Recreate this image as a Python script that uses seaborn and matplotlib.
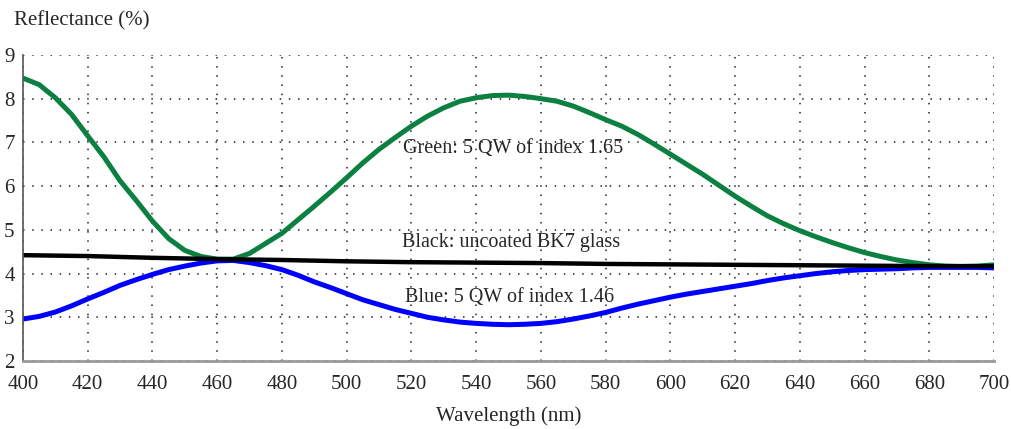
import numpy as np
import pandas as pd
import matplotlib
matplotlib.use("Agg")
import matplotlib.pyplot as plt
import seaborn as sns
from matplotlib.ticker import MultipleLocator

# Wavelengths (nm) and reflectance (%)
wl = [400, 405, 410, 415, 420, 425, 430, 435, 440, 445, 450, 455, 460, 465, 470, 475,
      480, 485, 490, 495, 500, 505, 510, 515, 520, 525, 530, 535, 540, 545, 550, 555,
      560, 565, 570, 575, 580, 585, 590, 595, 600, 605, 610, 615, 620, 625, 630, 635,
      640, 645, 650, 655, 660, 665, 670, 675, 680, 685, 690, 695, 700]
green = [8.47, 8.32, 8.02, 7.64, 7.15, 6.67, 6.12, 5.67, 5.20, 4.80, 4.53, 4.39, 4.33, 4.33, 4.46, 4.69,
         4.92, 5.23, 5.54, 5.86, 6.19, 6.53, 6.84, 7.11, 7.37, 7.60, 7.79, 7.94, 8.02, 8.07, 8.08, 8.05,
         8.00, 7.94, 7.83, 7.68, 7.52, 7.37, 7.18, 6.96, 6.73, 6.50, 6.27, 6.02, 5.77, 5.54, 5.32, 5.14,
         4.98, 4.84, 4.71, 4.59, 4.48, 4.39, 4.31, 4.25, 4.20, 4.17, 4.16, 4.17, 4.20]
blue = [2.96, 3.02, 3.12, 3.26, 3.42, 3.57, 3.73, 3.86, 3.98, 4.09, 4.17, 4.24, 4.29, 4.30, 4.25, 4.18,
        4.09, 3.96, 3.81, 3.68, 3.54, 3.40, 3.29, 3.18, 3.09, 3.00, 2.94, 2.89, 2.86, 2.84, 2.83, 2.84,
        2.86, 2.90, 2.96, 3.03, 3.11, 3.21, 3.30, 3.38, 3.46, 3.53, 3.59, 3.65, 3.71, 3.77, 3.84, 3.90,
        3.95, 4.00, 4.04, 4.07, 4.09, 4.10, 4.11, 4.13, 4.14, 4.14, 4.14, 4.14, 4.13]
wl_bk7 = [400, 420, 440, 460, 480, 500, 520, 540, 560, 580, 600, 620, 640, 660, 680, 700]
black = [4.42, 4.40, 4.36, 4.33, 4.31, 4.28, 4.26, 4.25, 4.24, 4.22, 4.21, 4.20, 4.19, 4.18, 4.17, 4.17]

sns.set_style("white")
plt.rcParams['font.family'] = ['Liberation Serif', 'DejaVu Serif']

fig = plt.figure(figsize=(10.12, 4.29), dpi=100)
ax = fig.add_axes([0.0227, 0.1585, 0.9595, 0.7135])

ax.grid(True, which='major', color='#222222', linestyle=(0, (1, 5)), linewidth=1.1)

sns.lineplot(x=wl, y=green, color='#0b8040', linewidth=3.6, ax=ax)
sns.lineplot(x=wl, y=blue, color='#0000ff', linewidth=3.6, ax=ax)
sns.lineplot(x=wl_bk7, y=black, color='black', linewidth=3.2, ax=ax)

ax.set_xlim(400, 700)
ax.set_ylim(2, 9)
ax.xaxis.set_major_locator(MultipleLocator(20))
ax.xaxis.set_minor_locator(MultipleLocator(10))
ax.yaxis.set_major_locator(MultipleLocator(1))
ax.yaxis.set_minor_locator(MultipleLocator(0.5))

for s in ['top', 'right']:
    ax.spines[s].set_visible(False)
ax.spines['left'].set_color('#555555')
ax.spines['left'].set_linewidth(1.2)
ax.spines['bottom'].set_color('#999999')
ax.spines['bottom'].set_linewidth(2)

ax.tick_params(axis='x', which='both', direction='in', length=5, color='#555555', labelsize=15, pad=10)
ax.tick_params(axis='y', which='major', direction='inout', length=8, color='#555555', labelsize=15, pad=2)
ax.tick_params(axis='y', which='minor', direction='in', length=4, color='#555555')

ax.text(517.5, 6.87, 'Green: 5 QW of index 1.65', fontsize=14.5, va='center', ha='left')
ax.text(517, 4.72, 'Black: uncoated BK7 glass', fontsize=14.5, va='center', ha='left')
ax.text(518, 3.46, 'Blue: 5 QW of index 1.46', fontsize=14.5, va='center', ha='left')

fig.text(14 / 1012, 1 - 21 / 429, 'Reflectance (%)', fontsize=15, va='center', ha='left')
ax.set_xlabel('Wavelength (nm)', fontsize=15, labelpad=9)
ax.set_ylabel('')

fig.savefig('out.png', dpi=100)
